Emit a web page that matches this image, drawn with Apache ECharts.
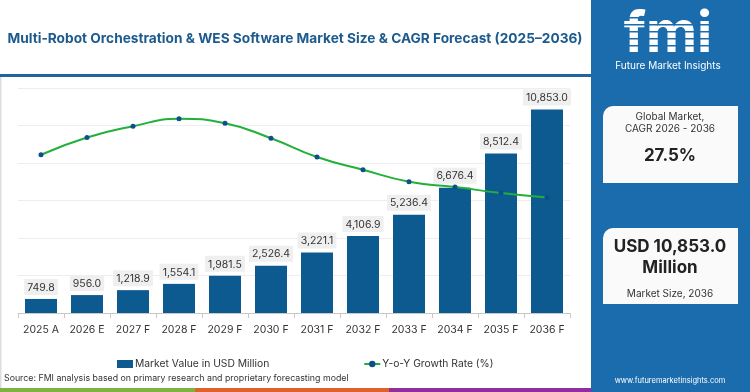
<!DOCTYPE html>
<html>
<head>
<meta charset="utf-8">
<script src="https://cdn.jsdelivr.net/npm/echarts@6/dist/echarts.min.js"></script>
<style>
  html, body { margin: 0; padding: 0; background: #fff; }
  #chart { width: 750px; height: 392px; }
</style>
</head>
<body>
<div id="chart"></div>
<script>
const years = ['2025 A', '2026 E', '2027 F', '2028 F', '2029 F', '2030 F', '2031 F', '2032 F', '2033 F', '2034 F', '2035 F', '2036 F']
const marketValue = [749.8, 956.0, 1218.9, 1554.1, 1981.5, 2526.4, 3221.1, 4106.9, 5236.4, 6676.4, 8512.4, 10853.0]
// growth line as drawn (no axis labels in the picture)
const growthRate = [21.1, 23.4, 24.9, 25.9, 25.3, 23.3, 20.8, 19.1, 17.5, 16.8, 16.0, 15.4]

const FONT = 'Inter, "Noto Sans", sans-serif'
const BAR_BLUE = '#0d5a91'
const PANEL_BLUE = '#1b6cad'

const fmt = v => v.toLocaleString('en-US', { minimumFractionDigits: 1, maximumFractionDigits: 1 })

const chart = echarts.init(document.getElementById('chart'), null, { renderer: 'canvas' })

// stripes across the "fmi" letters
const logoStripes = [17, 24, 31, 38, 45, 52].map(y => ({
    type: 'rect',
    shape: { x: 612, y: y, width: 116, height: 1.4 },
    style: { fill: PANEL_BLUE },
    z: 12
}))

chart.setOption({
    animation: false,
    textStyle: { fontFamily: FONT },
    grid: { left: 18, right: 180, top: 88, bottom: 79, containLabel: false },
    xAxis: {
        type: 'category',
        data: years,
        axisLine: { lineStyle: { color: '#c8c8c8' } },
        axisTick: { show: true, length: 5, lineStyle: { color: '#c8c8c8' } },
        axisLabel: { color: '#333', fontSize: 10.5, margin: 11, interval: 0, fontFamily: FONT }
    },
    yAxis: [
        {
            type: 'value',
            min: 0,
            max: 12000,
            interval: 2000,
            axisLabel: { show: false },
            axisLine: { show: false },
            axisTick: { show: false },
            splitLine: { lineStyle: { color: '#eeeeee' } }
        },
        {
            type: 'value',
            min: 0,
            max: 30,
            show: false,
            splitLine: { show: false }
        }
    ],
    legend: {
        left: 112,
        top: 354,
        itemGap: 94,
        itemWidth: 16,
        itemHeight: 8,
        textStyle: { color: '#333', fontSize: 10.3, fontFamily: FONT, padding: [0, 0, 0, -3] },
        data: [
            { name: 'Market Value in USD Million', icon: 'rect' },
            { name: 'Y-o-Y Growth Rate (%)' }
        ]
    },
    series: [
        {
            name: 'Market Value in USD Million',
            type: 'bar',
            data: marketValue,
            barWidth: 32,
            itemStyle: { color: BAR_BLUE },
            label: {
                show: true,
                position: 'top',
                distance: 4,
                formatter: p => fmt(p.value),
                color: '#333',
                fontSize: 10.5,
                fontFamily: FONT,
                backgroundColor: '#efefef',
                padding: [3, 3, 2, 3]
            },
            z: 2
        },
        {
            name: 'Y-o-Y Growth Rate (%)',
            type: 'line',
            yAxisIndex: 1,
            data: growthRate,
            smooth: true,
            symbol: 'circle',
            symbolSize: 5,
            lineStyle: { color: '#22b03a', width: 2 },
            itemStyle: { color: '#0d4f8b' },
            z: 3
        }
    ],
    graphic: [
        // title
        {
            type: 'text',
            x: 295,
            y: 39,
            style: {
                text: 'Multi-Robot Orchestration & WES Software Market Size & CAGR Forecast (2025\u20132036)',
                fill: '#1d5a8e',
                font: 'bold 13.7px ' + FONT,
                align: 'center',
                verticalAlign: 'middle'
            }
        },
        { type: 'rect', shape: { x: 0, y: 74, width: 591, height: 3 }, style: { fill: '#1f65a0' } },
        { type: 'rect', shape: { x: 0, y: 77, width: 1.5, height: 311 }, style: { fill: '#dddddd' } },
        // source
        {
            type: 'text',
            left: 4,
            top: 374,
            style: {
                text: 'Source: FMI analysis based on primary research and proprietary forecasting model',
                fill: '#333',
                font: '8.8px ' + FONT
            }
        },
        // bottom stripe
        { type: 'rect', shape: { x: 0, y: 388, width: 195, height: 4 }, style: { fill: '#7cb342' } },
        { type: 'rect', shape: { x: 195, y: 388, width: 194, height: 4 }, style: { fill: '#e0622b' } },
        { type: 'rect', shape: { x: 389, y: 388, width: 202, height: 4 }, style: { fill: '#8e2f9b' } },
        // right panel
        { type: 'rect', shape: { x: 591, y: 0, width: 159, height: 392 }, style: { fill: PANEL_BLUE }, z: 10 },
        {
            type: 'text',
            x: 668, y: 35,
            style: { text: 'fmi', fill: '#fff', font: 'bold 56px ' + FONT, align: 'center', verticalAlign: 'middle' },
            z: 11
        },
        ...logoStripes,
        {
            type: 'text',
            x: 668, y: 66,
            style: { text: 'Future Market Insights', fill: '#fff', font: '10px ' + FONT, align: 'center', verticalAlign: 'middle' },
            z: 11
        },
        { type: 'rect', shape: { x: 603, y: 106, width: 135, height: 77, r: [10, 0, 0, 0] }, style: { fill: '#fafafa' }, z: 11 },
        {
            type: 'text',
            x: 670, y: 123,
            style: { text: 'Global Market,\nCAGR 2026 - 2036', fill: '#333', font: '10px ' + FONT, align: 'center', verticalAlign: 'middle', lineHeight: 12 },
            z: 12
        },
        {
            type: 'text',
            x: 670, y: 156,
            style: { text: '27.5%', fill: '#222', font: 'bold 17px ' + FONT, align: 'center', verticalAlign: 'middle' },
            z: 12
        },
        { type: 'rect', shape: { x: 603, y: 228, width: 135, height: 76, r: [10, 0, 0, 0] }, style: { fill: '#fafafa' }, z: 11 },
        {
            type: 'text',
            x: 670, y: 257,
            style: { text: 'USD 10,853.0\nMillion', fill: '#222', font: 'bold 17px ' + FONT, align: 'center', verticalAlign: 'middle', lineHeight: 21 },
            z: 12
        },
        {
            type: 'text',
            x: 670, y: 294,
            style: { text: 'Market Size, 2036', fill: '#333', font: '10px ' + FONT, align: 'center', verticalAlign: 'middle' },
            z: 12
        },
        {
            type: 'text',
            x: 670, y: 381,
            style: { text: 'www.futuremarketinsights.com', fill: '#fff', font: '7.5px ' + FONT, align: 'center', verticalAlign: 'middle' },
            z: 12
        }
    ]
})
</script>
</body>
</html>
